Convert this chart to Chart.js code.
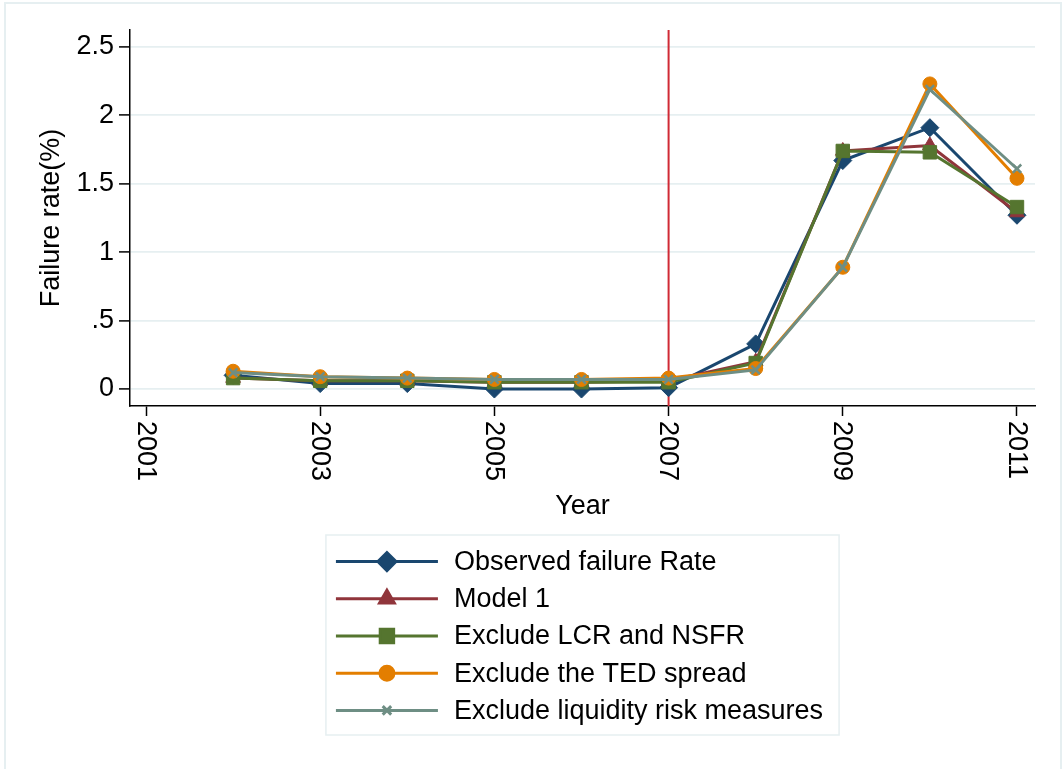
<!DOCTYPE html>
<html>
<head>
<meta charset="utf-8">
<script src="https://cdn.jsdelivr.net/npm/chart.js@4.4.1/dist/chart.umd.min.js"></script>
<style>
  html, body { margin: 0; padding: 0; background: #fff; }
  #wrap { width: 1063px; height: 769px; }
</style>
</head>
<body>
<div id="wrap"><canvas id="failChart" width="1063" height="769"></canvas></div>
<script>
// failure rates (%) by year, observed vs. model variants
const years = [2002, 2003, 2004, 2005, 2006, 2007, 2008, 2009, 2010, 2011];
const observed      = [0.10, 0.04, 0.04, 0.00, 0.00, 0.01, 0.33, 1.67, 1.91, 1.27];
const model1        = [0.08, 0.06, 0.06, 0.05, 0.05, 0.06, 0.20, 1.74, 1.78, 1.29];
const exclLcrNsfr   = [0.08, 0.06, 0.06, 0.05, 0.05, 0.05, 0.19, 1.74, 1.73, 1.33];
const exclTed       = [0.13, 0.09, 0.08, 0.07, 0.07, 0.08, 0.15, 0.89, 2.23, 1.54];
const exclLiquidity = [0.12, 0.09, 0.08, 0.07, 0.07, 0.07, 0.14, 0.89, 2.19, 1.61];

const seriesNames = [
  'Observed failure Rate',
  'Model 1',
  'Exclude LCR and NSFR',
  'Exclude the TED spread',
  'Exclude liquidity risk measures'
];

const xTickYears = [2001, 2003, 2005, 2007, 2009, 2011];
const yTickValues = [0, 0.5, 1, 1.5, 2, 2.5];
const yTickLabels = ['0', '.5', '1', '1.5', '2', '2.5'];
const crisisYear = 2007;

const FONT = '"Liberation Sans", Arial, Helvetica, sans-serif';
const FSIZE = 27;
const GRID = '#e6eff1';

const styles = [
  { color: '#1a476f', pointStyle: 'rectRot',  radius: 9,   bw: 1 },
  { color: '#90353b', pointStyle: 'triangle', radius: 8.5, bw: 1 },
  { color: '#55752f', pointStyle: 'rect',     radius: 9.5, bw: 1 },
  { color: '#e37e00', pointStyle: 'circle',   radius: 7,   bw: 1 },
  { color: '#6e8e84', pointStyle: 'crossRot', radius: 6,   bw: 2.5 }
];

const seriesValues = [observed, model1, exclLcrNsfr, exclTed, exclLiquidity];

const datasets = seriesValues.map((vals, i) => ({
  label: seriesNames[i],
  data: years.map((y, j) => ({ x: y, y: vals[j] })),
  borderColor: styles[i].color,
  backgroundColor: styles[i].color,
  borderWidth: 3,
  pointStyle: styles[i].pointStyle,
  pointRadius: styles[i].radius,
  pointHoverRadius: styles[i].radius,
  pointBorderWidth: styles[i].bw,
  pointBackgroundColor: styles[i].color,
  pointBorderColor: styles[i].color,
  tension: 0,
  order: seriesValues.length - i   // later series sit on top
}));

// outer frame
const frame = {
  id: 'frame',
  beforeDraw(chart) {
    const { ctx, width, height } = chart;
    ctx.save();
    ctx.fillStyle = '#fff';
    ctx.fillRect(0, 0, width, height);
    ctx.strokeStyle = GRID;
    ctx.lineWidth = 2;
    ctx.beginPath();
    ctx.moveTo(5, height + 5);
    ctx.lineTo(5, 3);
    ctx.lineTo(width - 2, 3);
    ctx.lineTo(width - 2, height + 5);
    ctx.stroke();
    ctx.restore();
  }
};

// vertical marker at the crisis year
const crisisLine = {
  id: 'crisisLine',
  beforeDatasetsDraw(chart) {
    const { ctx, chartArea, scales } = chart;
    const px = scales.x.getPixelForValue(crisisYear);
    ctx.save();
    ctx.strokeStyle = '#d02a35';
    ctx.lineWidth = 2;
    ctx.beginPath();
    ctx.moveTo(px, chartArea.top);
    ctx.lineTo(px, chartArea.bottom);
    ctx.stroke();
    ctx.restore();
  }
};

// x labels read top to bottom
const xLabels = {
  id: 'xLabels',
  afterDraw(chart) {
    const { ctx, scales } = chart;
    const xs = scales.x;
    ctx.save();
    ctx.font = `${FSIZE}px ${FONT}`;
    ctx.fillStyle = '#000';
    ctx.textAlign = 'left';
    ctx.textBaseline = 'middle';
    xTickYears.forEach(v => {
      const px = xs.getPixelForValue(v);
      ctx.save();
      ctx.translate(px - 1, xs.top + 15);
      ctx.rotate(Math.PI / 2);
      ctx.fillText(String(v), 0, 0);
      ctx.restore();
    });
    ctx.restore();
  }
};

// boxed legend under the axis title
const legendBox = {
  id: 'legendBox',
  afterDraw(chart) {
    const { ctx, chartArea, scales } = chart;
    ctx.save();
    ctx.font = `${FSIZE}px ${FONT}`;
    const textW = Math.max(...seriesNames.map(n => ctx.measureText(n).width));
    const padL = 10, sampleW = 102, gap = 16, padR = 16, rowH = 37.2;
    const boxW = padL + sampleW + gap + textW + padR;
    const boxH = 8 + rowH * seriesNames.length + 6;
    const left = (chartArea.left + chartArea.right) / 2 - boxW / 2;
    const top = scales.x.bottom + 8;

    ctx.strokeStyle = GRID;
    ctx.lineWidth = 1.5;
    ctx.strokeRect(left, top, boxW, boxH);

    seriesNames.forEach((name, i) => {
      const cy = top + 8 + rowH / 2 + i * rowH;
      const st = styles[i];
      ctx.strokeStyle = st.color;
      ctx.lineWidth = 3;
      ctx.beginPath();
      ctx.moveTo(left + padL, cy);
      ctx.lineTo(left + padL + sampleW, cy);
      ctx.stroke();
      ctx.fillStyle = st.color;
      Chart.helpers.drawPoint(ctx, {
        pointStyle: st.pointStyle,
        radius: st.radius,
        rotation: 0,
        borderWidth: st.bw
      }, left + padL + sampleW / 2, cy);
      ctx.fillStyle = '#000';
      ctx.textAlign = 'left';
      ctx.textBaseline = 'middle';
      ctx.fillText(name, left + padL + sampleW + gap, cy + 1);
    });
    ctx.restore();
  }
};

new Chart(document.getElementById('failChart'), {
  type: 'line',
  data: { datasets },
  options: {
    responsive: false,
    animation: false,
    devicePixelRatio: 1,
    layout: { padding: { top: 30, right: 28, bottom: 242, left: 31 } },
    plugins: {
      legend: { display: false },
      tooltip: { enabled: false }
    },
    scales: {
      x: {
        type: 'linear',
        min: 2000.816,
        max: 2011.207,
        afterBuildTicks: s => { s.ticks = xTickYears.map(v => ({ value: v })); },
        afterFit: s => { s.height = 121; },
        ticks: { display: false },
        grid: {
          drawOnChartArea: false,
          drawTicks: true,
          tickLength: 10,
          tickColor: '#000',
          tickWidth: 1.5
        },
        border: { color: '#000', width: 1.5 },
        title: {
          display: true,
          text: 'Year',
          color: '#000',
          font: { family: FONT, size: FSIZE },
          padding: { top: 4, bottom: 4 }
        }
      },
      y: {
        min: -0.124,
        max: 2.624,
        afterBuildTicks: s => { s.ticks = yTickValues.map(v => ({ value: v })); },
        afterFit: s => { s.width = 99; },
        ticks: {
          color: '#000',
          padding: 5,
          font: { family: FONT, size: FSIZE },
          callback: v => yTickLabels[yTickValues.indexOf(v)] ?? ''
        },
        grid: {
          color: GRID,
          lineWidth: 1.8,
          tickLength: 11,
          tickColor: '#000',
          tickWidth: 1.5
        },
        border: { color: '#000', width: 1.5 },
        title: {
          display: true,
          text: 'Failure rate(%)',
          color: '#000',
          font: { family: FONT, size: FSIZE },
          padding: { top: 4, bottom: 4 }
        }
      }
    }
  },
  plugins: [frame, crisisLine, xLabels, legendBox]
});
</script>
</body>
</html>
